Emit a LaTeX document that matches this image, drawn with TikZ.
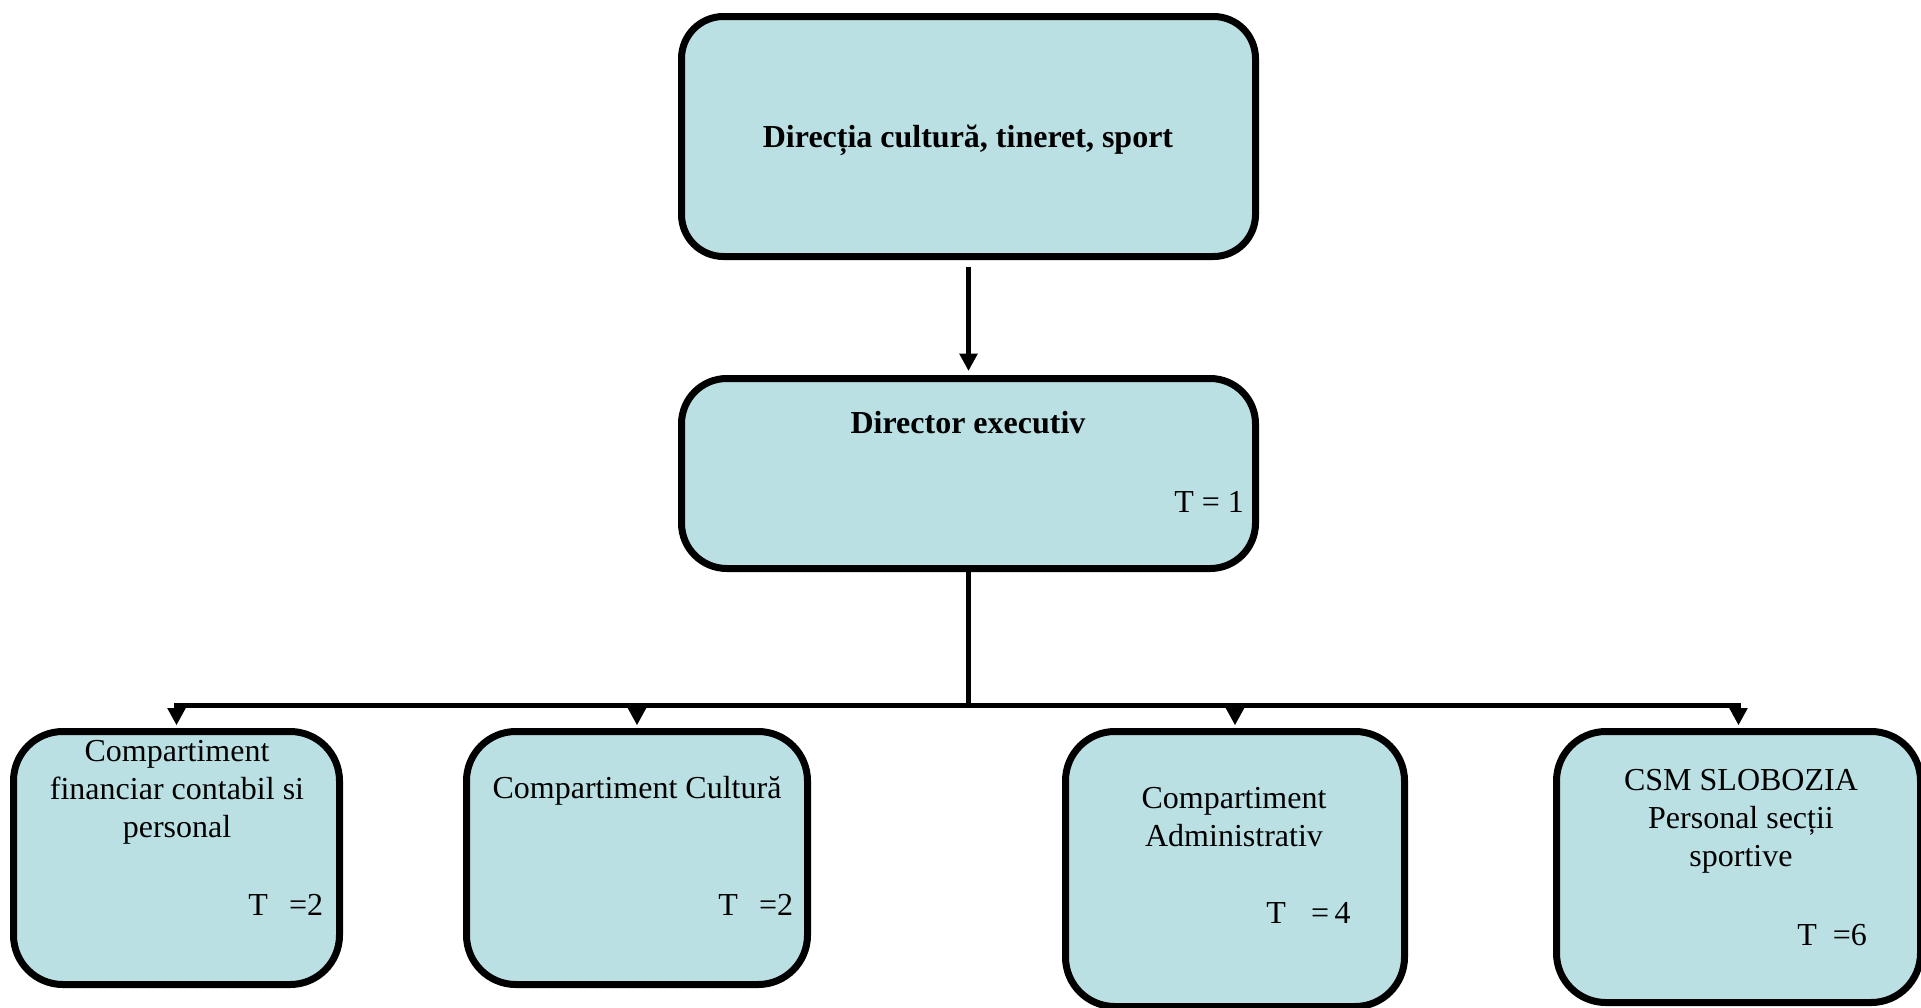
\documentclass[tikz,border=0pt]{standalone}
\usepackage{fontspec}
\setmainfont{Liberation Serif}
\usetikzlibrary{arrows.meta}

\definecolor{boxfill}{RGB}{187,224,227}
% stacked, centred lines whose baseline is the first line's
\newcommand\boxrows[1]{\begin{tabular}[t]{@{}c@{}}#1\end{tabular}}

\tikzset{
  orgbox/.style={draw=black, fill=boxfill, line width=5.25pt, inner sep=0pt},
  topbox/.style={orgbox, rounded corners=31.5pt},
  lowbox/.style={orgbox, rounded corners=37pt},
  label/.style={inner sep=0pt, font=\fontsize{24}{28.5}\selectfont},
  headlabel/.style={label, font=\fontsize{24}{28.5}\selectfont\bfseries},
  link/.style={line width=3.75pt, draw=black},
  tip/.style={-{Triangle[width=13pt,length=13pt]}},
  tips/.style={{Triangle[width=13pt,length=13pt]}-{Triangle[width=13pt,length=13pt]}},
}

\begin{document}
\begin{tikzpicture}[x=0.75pt, y=-0.75pt]
\useasboundingbox (0,0) rectangle (1921,1007);
\clip (0,0) rectangle (1921,1007);

% boxes
\node[topbox, minimum width=430.5pt, minimum height=180pt] (dir) at (968.5,136.5) {};
\node[topbox, rounded corners=34pt, minimum width=430.5pt, minimum height=142.5pt] (exec) at (968.5,473.5) {};
\node[lowbox, minimum width=244.5pt, minimum height=189.75pt] (fin) at (176.5,858) {};
\node[lowbox, minimum width=255.75pt, minimum height=189.75pt] (cult) at (637,858) {};
\node[lowbox, minimum width=254.25pt, minimum height=206.25pt] (adm) at (1235,869) {};
\node[lowbox, minimum width=273pt, minimum height=203.25pt] (csm) at (1738.5,867) {};

% texts
\node[headlabel, anchor=base] (dirtxt) at (968,147) {Direcția cultură, tineret, sport};
\node[headlabel, anchor=base] (exectxt) at (968,433) {Director executiv};
\node[label, anchor=base west] (exect) at (1174,512) {T = 1};

\node[label, anchor=base] (fintxt) at (177,761) {\boxrows{Compartiment\\financiar contabil si\\personal}};
\node[label, anchor=base west] (fint) at (248,915) {T\hspace{16pt}=2};

\node[label, anchor=base] (culttxt) at (637,798) {Compartiment Cultură};
\node[label, anchor=base west] (cultt) at (718,915) {T\hspace{16pt}=2};

\node[label, anchor=base] (admtxt) at (1234,808) {\boxrows{Compartiment\\Administrativ}};
\node[label, anchor=base west] (admt) at (1266,923) {T\hspace{19pt}=\,4};

\node[label, anchor=base] (csmtxt) at (1741,790) {\boxrows{CSM SLOBOZIA\\Personal secții\\sportive}};
\node[label, anchor=base west] (csmt) at (1797,945) {T\hspace{12pt}=6};

% connectors
\coordinate (bus) at (968.5,705);
\draw[link, tip] ([yshift=-5pt]dir.south) -- ([yshift=3pt]exec.north);
\draw[link] (exec.south) -- (bus);
\draw[link, tips]
  ([yshift=2pt]fin.north) -- (fin.north |- bus) -- (csm.north |- bus) -- ([yshift=2pt]csm.north);
\draw[link, tip] (cult.north |- bus) -- ([yshift=2pt]cult.north);
\draw[link, tip] (adm.north |- bus) -- ([yshift=2pt]adm.north);
\end{tikzpicture}
\end{document}
